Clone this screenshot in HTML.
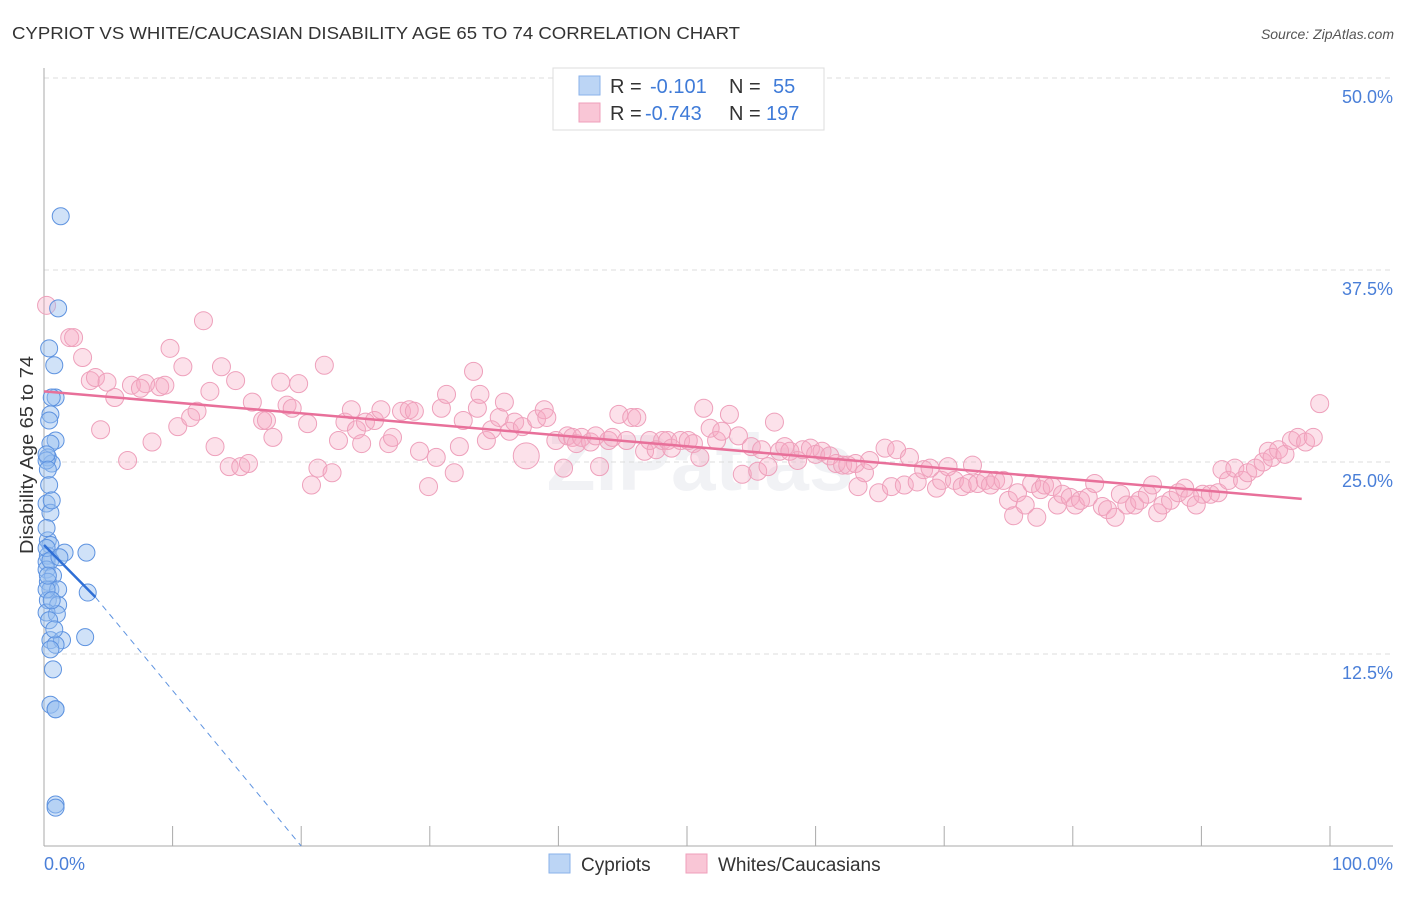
<!DOCTYPE html>
<html><head><meta charset="utf-8"><style>
body{margin:0;background:#fff;font-family:"Liberation Sans",sans-serif;}
svg text{font-family:"Liberation Sans",sans-serif;}
</style></head><body>
<svg id="chart" width="1406" height="892" xmlns="http://www.w3.org/2000/svg">
<text x="12" y="39" font-size="17.5" fill="#333" textLength="728" lengthAdjust="spacingAndGlyphs">CYPRIOT VS WHITE/CAUCASIAN DISABILITY AGE 65 TO 74 CORRELATION CHART</text>
<text x="1394" y="39" font-size="14" fill="#555" text-anchor="end" font-style="italic">Source: ZipAtlas.com</text>
<text transform="translate(33,455) rotate(-90)" font-size="18" fill="#333" text-anchor="middle" textLength="198" lengthAdjust="spacingAndGlyphs">Disability Age 65 to 74</text>
<text x="700" y="490" font-size="80" fill="#e8ebf0" text-anchor="middle" font-weight="bold" opacity="0.6">ZIPatlas</text>
<g id="grid"></g><g id="axes"></g><g id="pts"></g><g id="trends"></g>
<g>
<rect x="553" y="68" width="271" height="62" fill="#fff" stroke="#ddd"/>
<rect x="579" y="76" width="21" height="19" fill="#bcd5f5" stroke="#8ab2ea"/>
<rect x="579" y="103" width="21" height="19" fill="#f9c6d6" stroke="#ef9fbb"/>
<text x="610" y="93" font-size="20" fill="#333">R =</text><text x="650" y="93" font-size="20" fill="#3f7bd8">-0.101</text>
<text x="729" y="93" font-size="20" fill="#333">N =</text><text x="773" y="93" font-size="20" fill="#3f7bd8">55</text>
<text x="610" y="120" font-size="20" fill="#333">R =</text><text x="645" y="120" font-size="20" fill="#3f7bd8">-0.743</text>
<text x="729" y="120" font-size="20" fill="#333">N =</text><text x="766" y="120" font-size="20" fill="#3f7bd8">197</text>
</g>
<g>
<rect x="549" y="854" width="21" height="19" fill="#bcd5f5" stroke="#8ab2ea"/>
<text x="581" y="871" font-size="19" fill="#333">Cypriots</text>
<rect x="686" y="854" width="21" height="19" fill="#f9c6d6" stroke="#ef9fbb"/>
<text x="718" y="871" font-size="19" fill="#333">Whites/Caucasians</text>
</g>
</svg>
<script>
const yTicks=[12.5,25,37.5,50];
const yTickLabels=["12.5%","25.0%","37.5%","50.0%"];
const xTicks=[0,10,20,30,40,50,60,70,80,90,100];
const blueX=[1.3,1.1,0.4,0.8,0.9,0.6,0.5,0.9,0.5,0.3,0.6,0.2,0.4,0.2,0.5,0.3,0.5,1.6,3.3,0.3,0.2,0.2,0.7,0.3,0.5,1.1,3.4,0.3,1.1,0.2,1.0,0.4,3.2,0.5,1.4,0.9,0.5,0.7,0.5,0.9,0.9,0.9,0.9,0.2,0.2,0.2,0.3,0.6,0.8,0.2,0.5,0.3,0.6,0.4,1.2];
const blueY=[41.0,35.0,32.4,31.3,29.2,29.2,28.1,26.4,26.2,25.3,24.9,25.1,23.5,22.3,21.7,19.9,19.6,19.1,19.1,18.9,18.5,18.0,17.6,17.2,16.7,16.7,16.5,16.0,15.7,15.2,15.1,14.7,13.6,13.4,13.4,13.1,12.8,11.5,9.2,8.9,8.9,2.7,2.5,16.7,20.7,25.5,24.5,16.0,14.1,19.4,18.6,17.6,22.5,27.7,18.8];
const pinkX=[0.2,2.0,2.3,3.0,3.6,4.0,4.9,4.4,5.5,6.5,6.8,7.9,8.4,7.5,9.0,9.4,9.8,10.4,10.8,11.4,11.9,12.4,12.9,13.3,13.8,14.4,14.9,15.3,15.9,16.2,17.0,17.3,17.8,18.4,18.9,19.3,19.8,20.5,20.8,21.3,21.8,22.4,22.9,23.4,23.9,24.3,24.7,25.0,25.7,26.2,26.8,27.1,27.8,28.4,28.8,29.2,29.9,30.5,30.9,31.3,31.9,32.3,32.6,33.4,33.7,33.9,34.4,34.8,35.4,35.8,36.2,36.6,37.2,38.3,38.9,39.1,39.8,40.4,40.7,41.1,41.4,41.8,42.5,42.9,43.2,43.9,44.2,44.7,45.3,45.7,46.1,46.7,47.1,47.6,48.1,48.5,48.8,49.5,50.1,50.5,51.0,51.3,51.8,52.3,52.7,53.3,54.0,54.3,55.0,55.5,55.8,56.3,56.8,57.2,57.6,58.0,58.6,59.0,59.6,60.0,60.5,61.1,61.6,62.1,62.5,63.1,63.3,63.8,64.2,64.9,65.4,65.9,66.3,66.9,67.3,67.9,68.4,68.9,69.4,69.8,70.3,70.8,71.4,71.9,72.2,72.6,73.2,73.6,74.0,74.6,75.0,75.4,75.7,76.3,76.8,77.2,77.5,77.8,78.4,78.8,79.2,79.8,80.2,80.6,81.2,81.7,82.3,82.7,83.3,83.7,84.2,84.8,85.2,85.8,86.2,86.6,87.0,87.6,88.2,88.7,89.1,89.6,90.1,90.7,91.3,91.6,92.1,92.6,93.2,93.6,94.2,94.8,95.2,95.5,96.0,96.5,97.0,97.5,98.1,98.7,99.2];
const pinkY=[35.2,33.1,33.1,31.8,30.3,30.5,30.2,27.1,29.2,25.1,30.0,30.1,26.3,29.8,29.9,30.0,32.4,27.3,31.2,27.9,28.3,34.2,29.6,26.0,31.2,24.7,30.3,24.7,24.9,28.9,27.7,27.7,26.6,30.2,28.7,28.5,30.1,27.5,23.5,24.6,31.3,24.3,26.4,27.6,28.4,27.1,26.2,27.6,27.7,28.4,26.2,26.6,28.3,28.4,28.3,25.7,23.4,25.3,28.5,29.4,24.3,26.0,27.7,30.9,28.5,29.4,26.4,27.1,27.9,28.9,27.0,27.6,27.3,27.8,28.4,27.9,26.4,24.6,26.7,26.6,26.2,26.6,26.3,26.7,24.7,26.4,26.6,28.1,26.4,27.9,27.9,25.7,26.4,25.8,26.4,26.4,25.9,26.4,26.4,26.2,25.3,28.5,27.2,26.4,27.0,28.1,26.7,24.2,26.0,24.4,25.8,24.7,27.6,25.7,26.0,25.7,25.1,25.8,25.9,25.5,25.7,25.4,24.9,24.8,24.8,24.9,23.4,24.3,25.1,23.0,25.9,23.4,25.8,23.5,25.3,23.7,24.5,24.6,23.3,23.8,24.7,23.8,23.4,23.6,24.8,23.6,23.8,23.5,23.8,23.8,22.5,21.5,23.0,22.2,23.6,21.4,23.2,23.5,23.4,22.2,22.9,22.7,22.2,22.5,22.7,23.6,22.1,21.9,21.4,22.9,22.2,22.2,22.5,22.9,23.5,21.7,22.2,22.5,23.0,23.3,22.7,22.2,22.9,22.9,23.0,24.5,23.8,24.6,23.8,24.3,24.6,25.0,25.7,25.3,25.8,25.5,26.4,26.6,26.3,26.6,28.8];
const pinkLargeX=[37.5], pinkLargeY=[25.4];
const blueTrend=[[0,19.6],[4,16.2],[20,0]];
const pinkTrend=[[0,29.6],[97.8,22.6]];
const X=v=>44+v*12.86, Y=v=>846-v*15.36;
const NS="http://www.w3.org/2000/svg";
function mk(tag,attrs,parent){const e=document.createElementNS(NS,tag);for(const k in attrs)e.setAttribute(k,attrs[k]);document.getElementById(parent).appendChild(e);return e;}
yTicks.forEach((t,i)=>{
 const l=mk('line',{x1:44,x2:1393,y1:Y(t),y2:Y(t),stroke:'#dcdcdc','stroke-dasharray':'5,4'},'grid');
 
 
 const tx=mk('text',{x:1393,y:Y(t)+25,'font-size':18,fill:'#4a7fd8','text-anchor':'end'},'grid');tx.textContent=yTickLabels[i];
 
 
});
const ax=mk('line',{x1:44,x2:44,y1:68,y2:846,stroke:'#aaa'},'axes');


const bx=mk('line',{x1:44,x2:1393,y1:846,y2:846,stroke:'#aaa'},'axes');


xTicks.forEach(t=>{const l=mk('line',{x1:X(t),x2:X(t),y1:826,y2:846,stroke:'#aaa'},'axes');
 
 });
const x0=mk('text',{x:44,y:870,'font-size':18,fill:'#4a7fd8'},'axes');x0.textContent='0.0%';


const x1=mk('text',{x:1393,y:870,'font-size':18,fill:'#4a7fd8','text-anchor':'end'},'axes');x1.textContent='100.0%';


pinkX.forEach((v,i)=>{const c=mk('circle',{cx:X(v),cy:Y(pinkY[i]),r:9,fill:'rgba(246,170,196,0.35)',stroke:'#eea0bb','stroke-width':1},'pts');
 
 });
pinkLargeX.forEach((v,i)=>{const c=mk('circle',{cx:X(v),cy:Y(pinkLargeY[i]),r:13,fill:'rgba(246,170,196,0.35)',stroke:'#eea0bb'},'pts');
 
 });
blueX.forEach((v,i)=>{const c=mk('circle',{cx:X(v),cy:Y(blueY[i]),r:8.5,fill:'rgba(150,190,240,0.45)',stroke:'#5e93e0','stroke-width':1},'pts');
 
 });
const pt=mk('line',{x1:X(pinkTrend[0][0]),y1:Y(pinkTrend[0][1]),x2:X(pinkTrend[1][0]),y2:Y(pinkTrend[1][1]),stroke:'#e8709a','stroke-width':2.5},'trends');


const bt=mk('line',{x1:X(blueTrend[0][0]),y1:Y(blueTrend[0][1]),x2:X(blueTrend[1][0]),y2:Y(blueTrend[1][1]),stroke:'#2f6fd6','stroke-width':2.5},'trends');


const bd=mk('line',{x1:X(blueTrend[1][0]),y1:Y(blueTrend[1][1]),x2:X(blueTrend[2][0]),y2:Y(blueTrend[2][1]),stroke:'#5e93e0','stroke-width':1,'stroke-dasharray':'6,5'},'trends');


</script>
</body></html>
